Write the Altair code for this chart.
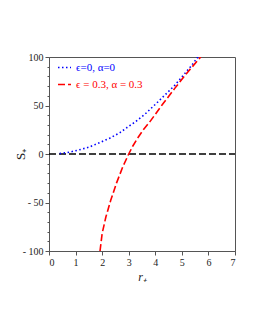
import altair as alt
import pandas as pd

# values
blue_r = [0.4, 0.7, 1.1, 1.5, 1.85, 2.3, 2.67, 2.92, 3.23, 3.61, 4.11, 4.74, 5.36, 5.6]
blue_s = [0.5, 1.5, 4.0, 7.0, 11.0, 16.5, 22.0, 27.0, 32.8, 41.0, 54.0, 71.0, 91.0, 100.0]
red_r = [1.92, 2.0, 2.14, 2.32, 2.54, 2.78, 3.0, 3.15, 3.33, 3.55, 3.8, 4.26, 4.74, 5.24, 5.71]
red_s = [-100.0, -82.0, -65.0, -48.0, -30.0, -13.0, 0.0, 8.0, 16.2, 25.0, 33.4, 50.7, 67.9, 85.1, 100.0]
zero_r = [0.0, 7.0]
zero_s = [0.0, 0.0]
series = ["ϵ=0, α=0", "ϵ = 0.3, α = 0.3"]
colors = ["#0000ff", "#ff0000"]
x_ticks = [i * 0.5 for i in range(15)]
y_ticks = [-100 + 10 * i for i in range(21)]

curves = pd.DataFrame(
    {"r": blue_r + red_r,
     "S": blue_s + red_s,
     "series": [series[0]] * len(blue_r) + [series[1]] * len(red_r)}
)
zero = pd.DataFrame({"r": zero_r, "S": zero_s})

FONT = "Liberation Serif"

xax = alt.Axis(
    title="r₊", values=x_ticks, grid=False, format="d",
    labelExpr="datum.value % 1 == 0 ? format(datum.value, 'd') : ''",
    tickSize={"condition": {"test": "datum.value % 1 == 0", "value": 4}, "value": 2},
    labelFont=FONT, labelFontSize=10, titleFont=FONT, titleFontSize=12,
    titleFontWeight="normal", titleFontStyle="italic", labelColor="#222", titleColor="#222",
    domainColor="#555", tickColor="#555", titlePadding=4, labelPadding=2,
)
yax = alt.Axis(
    title="S₊", values=y_ticks, grid=False, format="d",
    labelExpr="datum.value % 50 == 0 ? (datum.value < 0 ? '- ' + abs(datum.value) : '' + datum.value) : ''",
    tickSize={"condition": {"test": "datum.value % 50 == 0", "value": 4}, "value": 2},
    labelFont=FONT, labelFontSize=10, titleFont=FONT, titleFontSize=13,
    titleFontWeight="normal", labelColor="#222", titleColor="#222",
    domainColor="#555", tickColor="#555", labelPadding=2,
    titleX=-29, titleBaseline="middle",
)

xs = alt.Scale(domain=[0, 7], nice=False)
ys = alt.Scale(domain=[-100, 100], nice=False)

zline = alt.Chart(zero).mark_line(color="black", strokeWidth=1.5, strokeDash=[7, 3], clip=True).encode(
    x=alt.X("r:Q", scale=xs, axis=xax),
    y=alt.Y("S:Q", scale=ys, axis=yax),
)

lines = alt.Chart(curves).mark_line(strokeWidth=1.6, clip=True).encode(
    x=alt.X("r:Q", scale=xs, axis=xax),
    y=alt.Y("S:Q", scale=ys, axis=yax),
    color=alt.Color("series:N", scale=alt.Scale(domain=series, range=colors),
                    legend=alt.Legend(
                        title=None, orient="none", legendX=8, legendY=3,
                        symbolType="stroke", symbolSize=169, symbolStrokeWidth=1.6,
                        labelFont=FONT, labelFontSize=11, rowPadding=4,
                        labelColor={"expr": "datum.value == '" + series[0] + "' ? '" + colors[0] + "' : '" + colors[1] + "'"},
                        padding=0,
                    )),
    strokeDash=alt.StrokeDash("series:N", scale=alt.Scale(domain=series, range=[[1.5, 2.5], [7, 3]]),
                              legend=None),
    order=alt.Order("r:Q"),
)

chart = alt.layer(zline, lines).properties(
    width=186, height=194,
    autosize=alt.AutoSizeParams(type="none"),
    padding={"left": 41, "top": 49, "right": 12, "bottom": 71},
    background="white",
).configure_view(stroke="#555", strokeWidth=1)

chart.save("out.html", embed_options={"renderer": "svg", "actions": False})
